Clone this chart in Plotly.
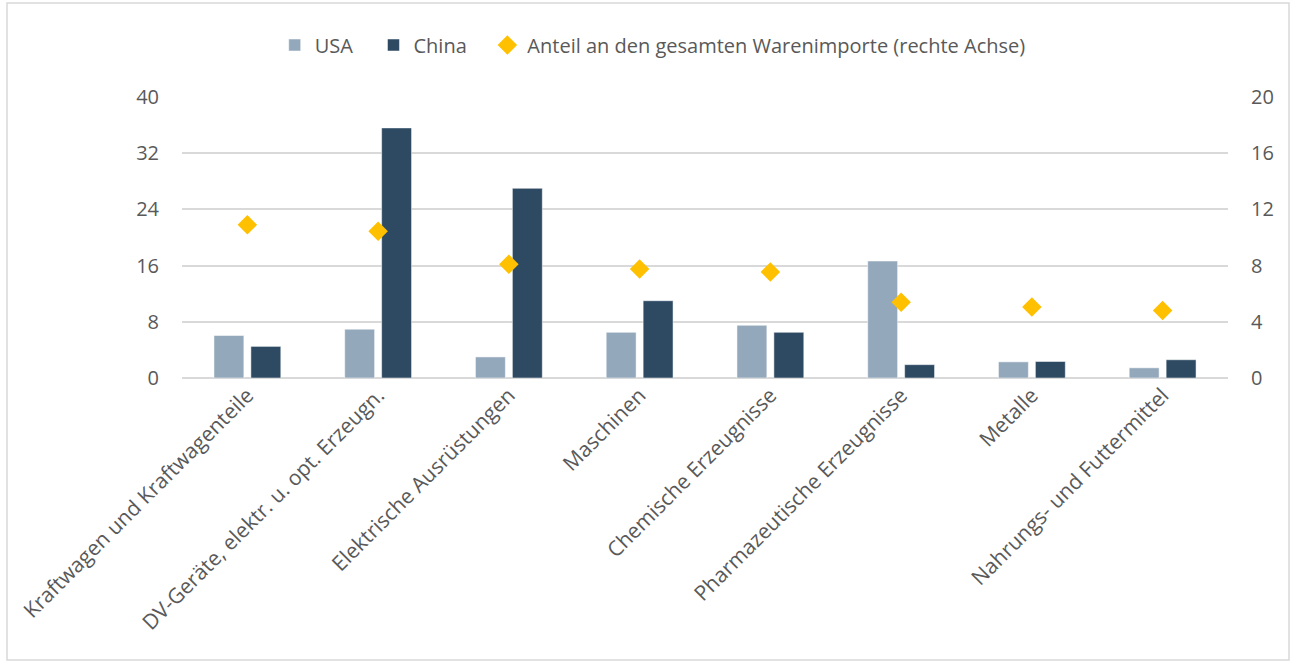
import plotly.graph_objects as go

# values
categories = [
    "Kraftwagen und Kraftwagenteile",
    "DV-Geräte, elektr. u. opt. Erzeugn.",
    "Elektrische Ausrüstungen",
    "Maschinen",
    "Chemische Erzeugnisse",
    "Pharmazeutische Erzeugnisse",
    "Metalle",
    "Nahrungs- und Futtermittel",
]
usa = [6.05, 6.95, 3.0, 6.5, 7.5, 16.65, 2.3, 1.45]
china = [4.5, 35.6, 27.0, 11.0, 6.5, 1.9, 2.35, 2.6]
anteil = [10.9, 10.45, 8.1, 7.75, 7.55, 5.4, 5.05, 4.8]

left_ticks = [0, 8, 16, 24, 32, 40]
right_ticks = [0, 4, 8, 12, 16, 20]

USA_COLOR = "#94a8bc"
CHINA_COLOR = "#2e4a63"
GOLD = "#ffc000"
GRID = "#d9d9d9"
TEXT = "#595959"
FONT = "Open Sans"

W, H = 1293, 663
L, R, T, B = 182, 65, 97, 285

fig = go.Figure()

fig.add_trace(go.Bar(
    x=categories, y=usa, name="USA\u00a0\u00a0\u00a0",
    marker=dict(color=USA_COLOR, line=dict(color="white", width=0.5)),
))
fig.add_trace(go.Bar(
    x=categories, y=china, name="China\u00a0\u00a0\u00a0",
    marker=dict(color=CHINA_COLOR, line=dict(color="white", width=0.5)),
))
fig.add_trace(go.Scatter(
    x=categories, y=anteil, name="Anteil an den gesamten Warenimporte (rechte Achse)",
    mode="markers", yaxis="y2",
    marker=dict(symbol="diamond", color=GOLD, size=15),
))

# outer chart border
pw, ph = W - L - R, H - T - B
fig.add_shape(
    type="rect", xref="paper", yref="paper",
    x0=(7 - L) / pw, x1=(W - 4 - L) / pw,
    y0=-(H - 3 - T - ph) / ph, y1=1 + (T - 3) / ph,
    line=dict(color="#d9d9d9", width=1.5), layer="below",
)

fig.update_layout(
    width=W, height=H,
    margin=dict(l=L, r=R, t=T, b=B, autoexpand=False),
    paper_bgcolor="white", plot_bgcolor="white",
    font=dict(family=FONT, size=20, color=TEXT),
    barmode="group", bargap=0.435, bargroupgap=0.19,
    showlegend=True,
    legend=dict(
        orientation="h", x=0.45, xanchor="center", y=1.185, yanchor="middle",
        font=dict(size=20, color=TEXT), itemwidth=30, traceorder="normal",
    ),
    xaxis=dict(
        tickangle=-45, showgrid=False, showline=False, ticks="",
        tickfont=dict(size=21, color=TEXT),
    ),
    yaxis=dict(
        range=[0, 40], tickvals=left_ticks, showgrid=True, gridcolor=GRID, gridwidth=1.5,
        zeroline=True, zerolinecolor=GRID, zerolinewidth=2, ticks="",
        tickfont=dict(size=20, color=TEXT), ticklabelstandoff=22,
    ),
    yaxis2=dict(
        range=[0, 20], tickvals=right_ticks, overlaying="y", side="right",
        showgrid=False, zeroline=False, ticks="",
        tickfont=dict(size=20, color=TEXT), ticklabelstandoff=22,
    ),
)

fig.write_html(
    "out.html",
    config={"displayModeBar": False},
    post_script="document.body.style.margin='0';",
)
